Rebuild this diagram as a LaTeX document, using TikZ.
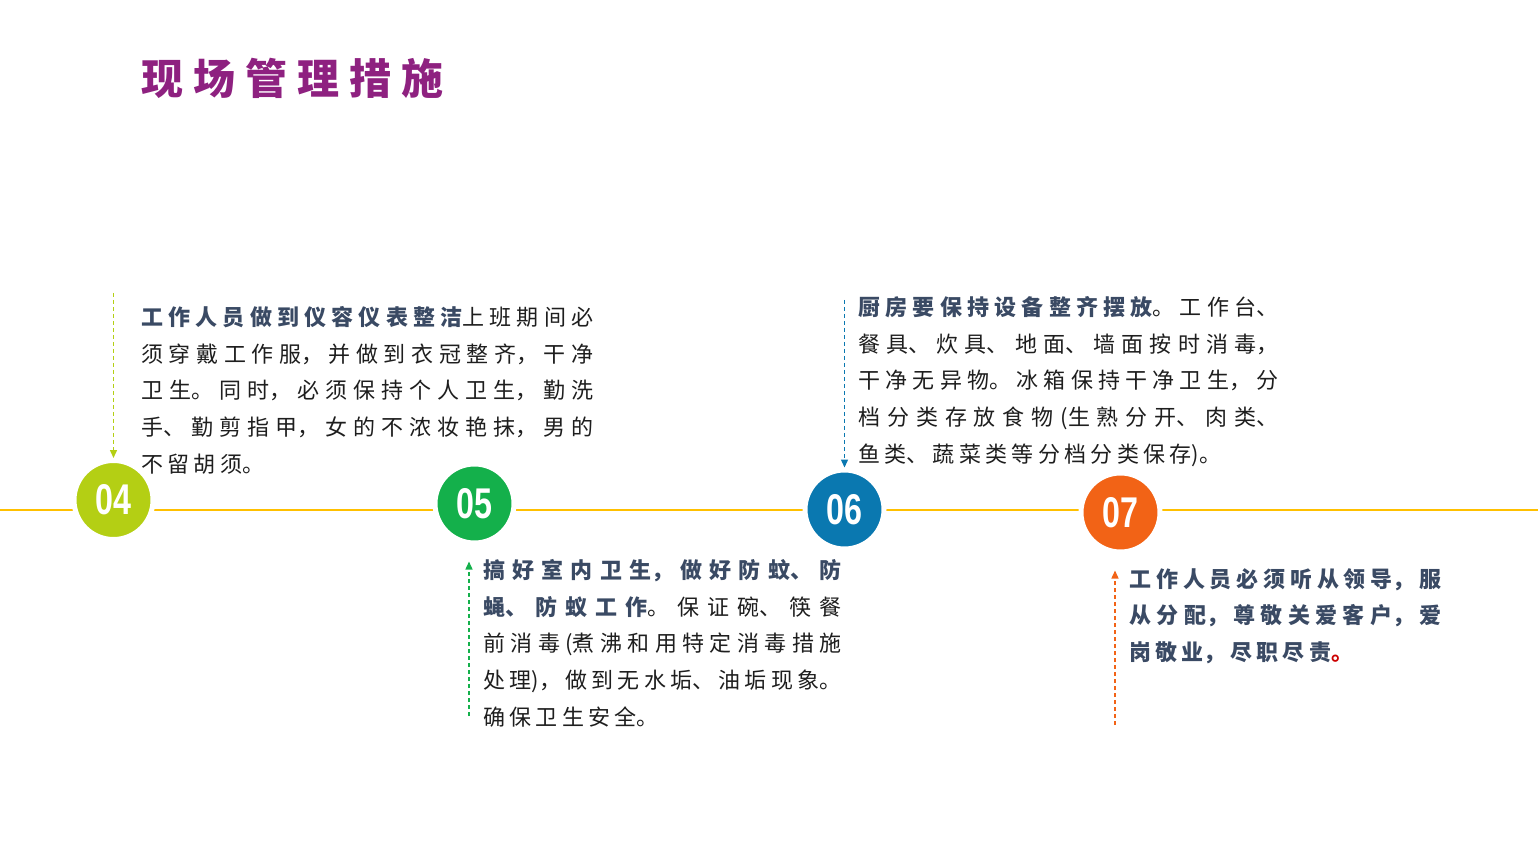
\documentclass[tikz,border=0pt]{standalone}
\usepackage{fontspec}
\usepackage{graphicx}
\setmainfont{Liberation Sans}
\newfontfamily\cjk{Noto Sans CJK SC}
\newfontfamily\cjktitle{Noto Sans CJK SC}[LetterSpace=24]
\newfontfamily\numfont{Liberation Sans}
\XeTeXlinebreaklocale "zh"
\XeTeXlinebreakskip=2.15pt plus 10pt minus 1.5pt
\setlength{\parindent}{0pt}
\usetikzlibrary{arrows.meta}
\definecolor{titlepurple}{HTML}{8E2180}
\definecolor{headblue}{HTML}{3A4A64}
\definecolor{bodyblack}{HTML}{1E1E1E}
\definecolor{goldline}{HTML}{FFC000}
\definecolor{lime}{HTML}{B4CF14}
\definecolor{leaf}{HTML}{14B04B}
\definecolor{sea}{HTML}{0A78B0}
\definecolor{tangerine}{HTML}{F26316}
\newcommand{\boldpart}[1]{{\bfseries\color{headblue}#1}}

\begin{document}
\begin{tikzpicture}[x=0.5pt, y=-0.5pt, line join=round, >={Triangle[length=4pt,width=3.5pt]}]
	\tikzset{
		numdot/.style={circle, fill=#1, draw=white, line width=2.5pt, minimum size=39.5pt, inner sep=0pt,
			text=white, font=\numfont\bfseries\fontsize{21.5}{21.5}\selectfont},
		para/.style={anchor=north west, inner sep=0pt, text width=#1, align=justify, text=bodyblack,
			font=\cjk\fontsize{11}{18.35}\selectfont},
		guide/.style={draw=#1, line width=0.7pt, dash pattern=on 2pt off 1.5pt, ->, #1}
	}
	\useasboundingbox (0,0) rectangle (1538,845);
	\node[anchor=west, inner sep=0pt, text=titlepurple, font=\cjktitle\bfseries\fontsize{21}{21}\selectfont] (title) at (141,78) {现场管理措施};
	\coordinate (L) at (0,510);
	\coordinate (R) at (1538,510);
	\draw[goldline, line width=1.25pt] (L) -- (R);
	\node[numdot=lime] (c04) at (113.5,500) {\scalebox{0.75}[1]{04}};
	\node[numdot=leaf] (c05) at (474.5,503.5) {\scalebox{0.75}[1]{05}};
	\node[numdot=sea] (c06) at (844.5,509.5) {\scalebox{0.75}[1]{06}};
	\node[numdot=tangerine] (c07) at (1120.5,512.5) {\scalebox{0.75}[1]{07}};
	\coordinate (s04) at (113.5,293);
	\coordinate (s05) at (469,716);
	\coordinate (s06) at (844.5,300);
	\coordinate (s07) at (1115,725);
	\draw[guide=lime] (s04) -- (c04);
	\draw[guide=leaf] (s05) -- ([yshift=-8]s05 |- c05.south);
	\draw[guide=sea] (s06) -- (c06);
	\draw[guide=tangerine] (s07) -- ([yshift=-8]s07 |- c07.south);
	\node[para=226pt] (t04) at (141,306) {\boldpart{工作人员做到仪容仪表整洁}上班期间必\linebreak
		须穿戴工作服，并做到衣冠整齐，干净\linebreak
		卫生。同时，必须保持个人卫生，勤洗\linebreak
		手、勤剪指甲，女的不浓妆艳抹，男的\linebreak
		不留胡须。};
	\node[para=179pt] (t05) at (483,559) {\boldpart{搞好室内卫生，做好防蚊、防}\linebreak
		\boldpart{蝇、防蚁工作}。保证碗、筷餐\linebreak
		前消毒(煮沸和用特定消毒措施\linebreak
		处理)，做到无水垢、油垢现象。\linebreak
		确保卫生安全。};
	\node[para=210pt] (t06) at (858,296) {\boldpart{厨房要保持设备整齐摆放}。工作台、\linebreak
		餐具、炊具、地面、墙面按时消毒，\linebreak
		干净无异物。冰箱保持干净卫生，分\linebreak
		档分类存放食物(生熟分开、肉类、\linebreak
		鱼类、蔬菜类等分档分类保存)。};
	\node[para=156pt] (t07) at (1129,568) {\boldpart{工作人员必须听从领导，服}\linebreak
		\boldpart{从分配，尊敬关爱客户，爱}\linebreak
		\boldpart{岗敬业，尽职尽责}{\bfseries\color{red!80!black}。}};
\end{tikzpicture}
\end{document}
